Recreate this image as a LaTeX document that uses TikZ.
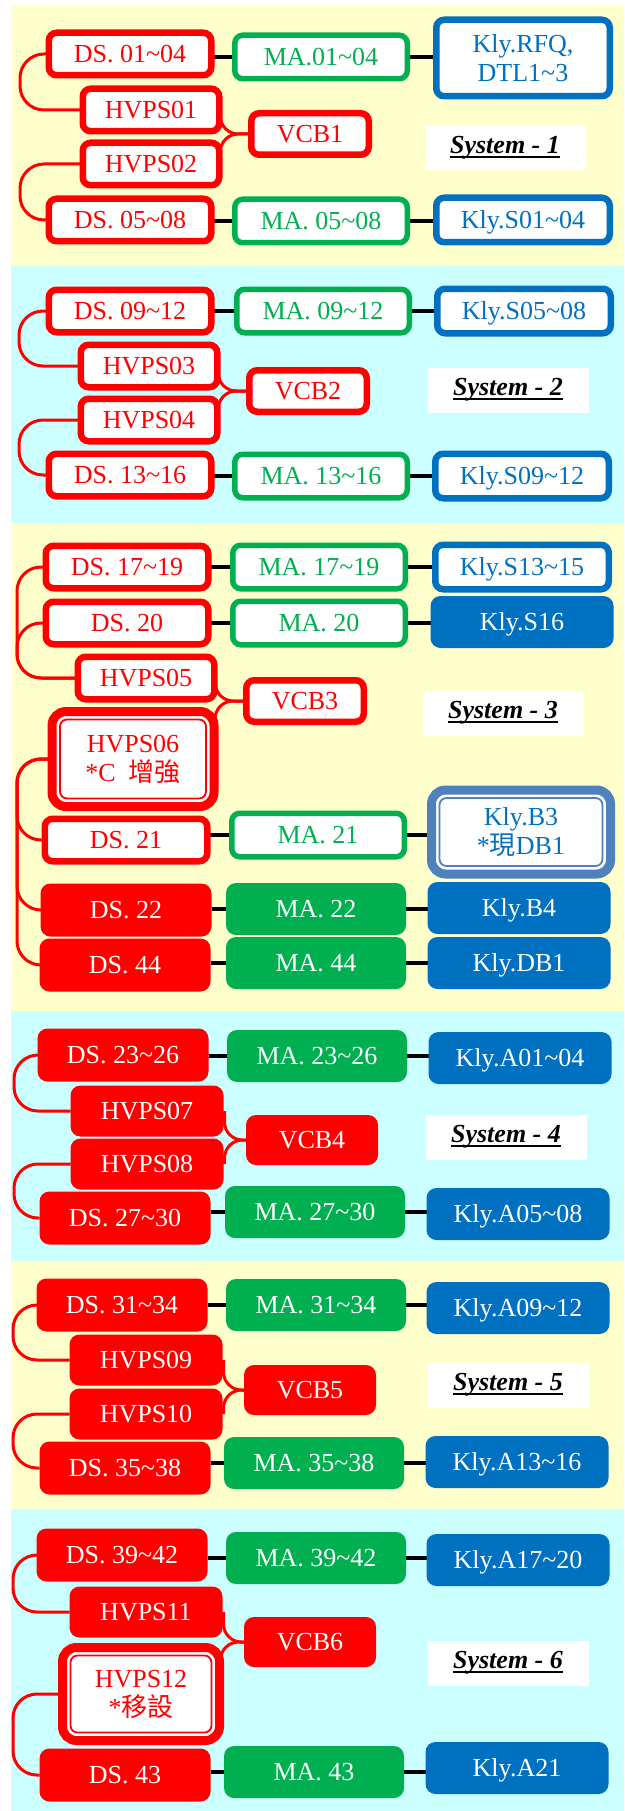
\documentclass[tikz,border=0pt]{standalone}
\usepackage{fontspec}
\setmainfont{Liberation Serif}
\newfontfamily\cjk{Noto Sans CJK TC}
\usetikzlibrary{calc}
\definecolor{yel}{HTML}{FFFFCC}
\definecolor{cya}{HTML}{CCFFFF}
\definecolor{myred}{HTML}{FF0000}
\definecolor{grn}{HTML}{00B050}
\definecolor{blu}{HTML}{0070C0}
\definecolor{stl}{HTML}{4F81BD}
\newcommand\tld{\textasciitilde}
\newcommand\fs{\fontsize{26}{29}\selectfont}
\newcommand\sysul[1]{\setbox0=\hbox{#1}\rlap{\rule[-4.5pt]{\wd0}{2.5pt}}\box0}
\pgfdeclarelayer{bands}
\pgfdeclarelayer{wires}
\pgfsetlayers{bands,wires,main}
\tikzset{
  base/.style={rectangle, rounded corners=8, inner sep=0pt, outer sep=0pt, align=center, font=\fs},
  box/.style={base, text height=19pt, text depth=2pt},
  rds/.style={box, draw=myred, line width=6.5pt, fill=white, text=myred, minimum width=162.5pt, minimum height=42.5pt},
  rhv/.style={rds, minimum width=136.5pt},
  rvcb/.style={rds, minimum width=117.5pt, minimum height=41.5pt},
  gma/.style={box, draw=grn, line width=5.5pt, fill=white, text=grn, minimum width=172.5pt, minimum height=43.5pt},
  bk/.style={box, draw=blu, line width=6.5pt, fill=white, text=blu, minimum width=173.5pt, minimum height=44.5pt},
  fds/.style={box, fill=myred, text=white, rounded corners=10, minimum width=171pt, minimum height=53pt},
  fhv/.style={fds, minimum width=153pt, minimum height=51pt},
  fvcb/.style={fds, minimum width=132pt, minimum height=50pt},
  fma/.style={box, fill=grn, text=white, rounded corners=10, minimum width=180pt, minimum height=52pt},
  fk/.style={box, fill=blu, text=white, rounded corners=10, minimum width=183pt, minimum height=52pt},
  dblred/.style={base, draw=myred, line width=9pt, fill=white, text=myred, rounded corners=14},
  dblstl/.style={base, draw=stl, line width=9pt, fill=white, text=blu, rounded corners=14},
  lbl/.style={fill=white, minimum width=161pt, minimum height=45pt, inner sep=0pt, font=\fs\bfseries\itshape},
  conn/.style={draw=myred, line width=3pt, rounded corners=24},
  vconn/.style={draw=myred, line width=3pt, rounded corners=18},
  blk/.style={draw=black, line width=3.5pt},
  inner/.style={line width=1.8pt, rounded corners=7}
}
\newcommand\lconn[3]{\draw[conn] (#1.west) -| (#3 |- #2.west) -- (#2.west);}
\newcommand\vconn[2]{\draw[vconn] (#1.west) -| ([xshift=1pt]#2.east);}
\newcommand\row[3]{\draw[blk] (#2.west -| #1.east) -- (#2.west); \draw[blk] (#2.east) -- (#2.east -| #3.west);}
\begin{document}
\begin{tikzpicture}[x=1pt, y=-1pt]
\useasboundingbox (0,0) rectangle (624,1811);
\begin{pgfonlayer}{bands}
\fill[white] (0,0) rectangle (624,1811);
\fill[yel] (11,6) rectangle (624,266);
\fill[cya] (11,266) rectangle (624,523);
\fill[yel] (11,523) rectangle (624,1011);
\fill[cya] (11,1011) rectangle (624,1261);
\fill[yel] (11,1261) rectangle (624,1509);
\fill[cya] (11,1509) rectangle (624,1811);
\end{pgfonlayer}
\coordinate (L1) at (20,0);
\coordinate (L2) at (19,0);
\coordinate (L3) at (17,0);
\coordinate (L4) at (14,0);
\coordinate (L5) at (13,0);
\coordinate (L6) at (13,0);
% System 1
\node[rds] (ds1) at (130,54) {DS. 01\tld04};
\node[gma] (ma1) at (321,57) {MA.01\tld04};
\node[bk, minimum height=76.5pt, text height={}, text depth={}] (k1) at (523,58) {Kly.RFQ,\\DTL1\tld3};
\node[rhv] (hv1) at (151,110) {HVPS01};
\node[rvcb] (vcb1) at (310,134) {VCB1};
\node[rhv] (hv2) at (151,164) {HVPS02};
\node[rds] (ds2) at (130,220) {DS. 05\tld08};
\node[gma] (ma2) at (321,221) {MA. 05\tld08};
\node[bk] (k2) at (523,220) {Kly.S01\tld04};
\node[lbl] (s1) at (505,148) {\sysul{System - 1}};
% System 2
\node[rds] (ds3) at (130,311) {DS. 09\tld12};
\node[gma] (ma3) at (323,311) {MA. 09\tld12};
\node[bk] (k3) at (524,311) {Kly.S05\tld08};
\node[rhv] (hv3) at (149,366) {HVPS03};
\node[rvcb] (vcb2) at (308,391) {VCB2};
\node[rhv] (hv4) at (149,420) {HVPS04};
\node[rds] (ds4) at (130,475) {DS. 13\tld16};
\node[gma] (ma4) at (321,476) {MA. 13\tld16};
\node[bk] (k4) at (522,476) {Kly.S09\tld12};
\node[lbl] (s2) at (508,390) {\sysul{System - 2}};
% System 3
\node[rds] (ds5) at (127,567) {DS. 17\tld19};
\node[gma] (ma5) at (319,567) {MA. 17\tld19};
\node[bk] (k5) at (522,567) {Kly.S13\tld15};
\node[rds] (ds6) at (127,623) {DS. 20};
\node[gma] (ma6) at (319,623) {MA. 20};
\node[fk] (k6) at (522,622) {Kly.S16};
\node[rhv] (hv5) at (146,678) {HVPS05};
\node[rvcb] (vcb3) at (305,701) {VCB3};
\node[dblred, minimum width=162pt, minimum height=95pt] (hv6) at (133,759) {HVPS06\\*C\ \ {\cjk 增強}};
\draw[inner, myred] ([shift={(8pt,-8pt)}]hv6.north west) rectangle ([shift={(-8pt,8pt)}]hv6.south east);
\node[rds] (ds7) at (126,840) {DS. 21};
\node[gma] (ma7) at (318,835) {MA. 21};
\node[dblstl, minimum width=179pt, minimum height=84pt] (k7) at (521,832) {Kly.B3\\*{\cjk 現}DB1};
\draw[inner, stl] ([shift={(8pt,-8pt)}]k7.north west) rectangle ([shift={(-8pt,8pt)}]k7.south east);
\node[fds] (ds8) at (126,910) {DS. 22};
\node[fma] (ma8) at (316,909) {MA. 22};
\node[fk] (k8) at (519,908) {Kly.B4};
\node[fds] (ds9) at (125,965) {DS. 44};
\node[fma] (ma9) at (316,963) {MA. 44};
\node[fk] (k9) at (519,963) {Kly.DB1};
\node[lbl] (s3) at (503,713) {\sysul{System - 3}};
% System 4
\node[fds] (ds10) at (123,1055) {DS. 23\tld26};
\node[fma] (ma10) at (317,1056) {MA. 23\tld26};
\node[fk] (k10) at (520,1058) {Kly.A01\tld04};
\node[fhv] (hv7) at (147,1111) {HVPS07};
\node[fvcb] (vcb4) at (312,1140) {VCB4};
\node[fhv] (hv8) at (147,1164) {HVPS08};
\node[fds] (ds11) at (125,1218) {DS. 27\tld30};
\node[fma] (ma11) at (315,1212) {MA. 27\tld30};
\node[fk] (k11) at (518,1214) {Kly.A05\tld08};
\node[lbl] (s4) at (506,1137) {\sysul{System - 4}};
% System 5
\node[fds] (ds12) at (122,1305) {DS. 31\tld34};
\node[fma] (ma12) at (316,1305) {MA. 31\tld34};
\node[fk] (k12) at (518,1308) {Kly.A09\tld12};
\node[fhv] (hv9) at (146,1360) {HVPS09};
\node[fvcb] (vcb5) at (310,1390) {VCB5};
\node[fhv] (hv10) at (146,1414) {HVPS10};
\node[fds] (ds13) at (125,1468) {DS. 35\tld38};
\node[fma] (ma13) at (314,1463) {MA. 35\tld38};
\node[fk] (k13) at (517,1462) {Kly.A13\tld16};
\node[lbl] (s5) at (508,1385) {\sysul{System - 5}};
% System 6
\node[fds] (ds14) at (122,1555) {DS. 39\tld42};
\node[fma] (ma14) at (316,1558) {MA. 39\tld42};
\node[fk] (k14) at (518,1560) {Kly.A17\tld20};
\node[fhv] (hv11) at (146,1612) {HVPS11};
\node[fvcb] (vcb6) at (310,1642) {VCB6};
\node[dblred, minimum width=157pt, minimum height=93pt] (hv12) at (141,1694) {HVPS12\\*{\cjk 移設}};
\draw[inner, myred] ([shift={(8pt,-8pt)}]hv12.north west) rectangle ([shift={(-8pt,8pt)}]hv12.south east);
\node[fds] (ds15) at (125,1775) {DS. 43};
\node[fma] (ma15) at (314,1772) {MA. 43};
\node[fk] (k15) at (517,1768) {Kly.A21};
\node[lbl] (s6) at (508,1663) {\sysul{System - 6}};
% connectors
\begin{pgfonlayer}{wires}
\lconn{ds1}{hv1}{L1} \lconn{hv2}{ds2}{L1}
\vconn{vcb1}{hv1} \vconn{vcb1}{hv2}
\row{ds1}{ma1}{k1} \row{ds2}{ma2}{k2}
\lconn{ds3}{hv3}{L2} \lconn{hv4}{ds4}{L2}
\vconn{vcb2}{hv3} \vconn{vcb2}{hv4}
\row{ds3}{ma3}{k3} \row{ds4}{ma4}{k4}
\lconn{ds5}{hv5}{L3} \lconn{ds6}{hv5}{L3}
\lconn{hv6}{ds7}{L3} \lconn{hv6}{ds8}{L3} \lconn{hv6}{ds9}{L3}
\vconn{vcb3}{hv5} \vconn{vcb3}{hv6}
\row{ds5}{ma5}{k5} \row{ds6}{ma6}{k6} \row{ds7}{ma7}{k7} \row{ds8}{ma8}{k8} \row{ds9}{ma9}{k9}
\lconn{ds10}{hv7}{L4} \lconn{hv8}{ds11}{L4}
\vconn{vcb4}{hv7} \vconn{vcb4}{hv8}
\row{ds10}{ma10}{k10} \row{ds11}{ma11}{k11}
\lconn{ds12}{hv9}{L5} \lconn{hv10}{ds13}{L5}
\vconn{vcb5}{hv9} \vconn{vcb5}{hv10}
\row{ds12}{ma12}{k12} \row{ds13}{ma13}{k13}
\lconn{ds14}{hv11}{L6} \lconn{hv12}{ds15}{L6}
\vconn{vcb6}{hv11} \vconn{vcb6}{hv12}
\row{ds14}{ma14}{k14} \row{ds15}{ma15}{k15}
\end{pgfonlayer}
\end{tikzpicture}
\end{document}
